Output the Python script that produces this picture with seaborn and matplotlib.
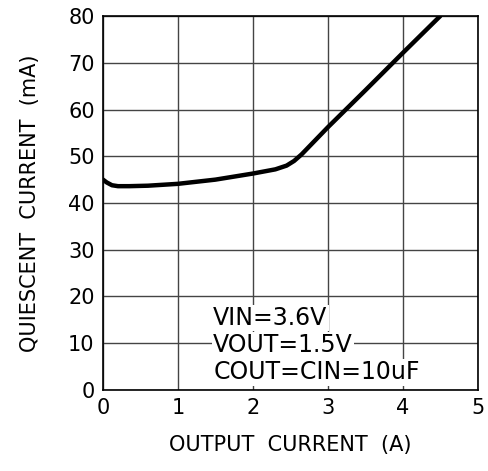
import matplotlib
matplotlib.use("Agg")
import matplotlib.pyplot as plt
import pandas as pd
import seaborn as sns

# readings
output_current = [0.0, 0.05, 0.12, 0.2, 0.35, 0.6, 1.0, 1.5, 2.0, 2.3, 2.45, 2.55, 2.65, 3.0, 3.5, 4.0, 4.5]
quiescent_ma = [45.0, 44.4, 43.8, 43.6, 43.6, 43.7, 44.1, 45.0, 46.3, 47.2, 48.0, 49.0, 50.4, 56.2, 64.1, 72.1, 80.0]

x_ticks = [0, 1, 2, 3, 4, 5]
y_ticks = [0, 10, 20, 30, 40, 50, 60, 70, 80]
notes = ["VIN=3.6V", "VOUT=1.5V", "COUT=CIN=10uF"]

sns.set_style("white")
plt.rcParams["font.family"] = ["DejaVu Sans"]
plt.rcParams["text.color"] = "black"
plt.rcParams["axes.labelcolor"] = "black"
plt.rcParams["xtick.color"] = "black"
plt.rcParams["ytick.color"] = "black"

df = pd.DataFrame({"current": output_current, "iq": quiescent_ma})

fig = plt.figure(figsize=(4.88, 4.71), dpi=100)
ax = fig.add_axes([0.211, 0.172, 0.768, 0.794])

ax.grid(True, color="#444444", linewidth=1.0)
ax.set_axisbelow(True)
sns.lineplot(data=df, x="current", y="iq", color="black", linewidth=3.2, ax=ax)

ax.set_xlim(0, 5)
ax.set_ylim(0, 80)
ax.set_xticks(x_ticks)
ax.set_yticks(y_ticks)
ax.tick_params(labelsize=15, length=0, pad=6)
for s in ax.spines.values():
    s.set_color("black")
    s.set_linewidth(1.2)

ax.set_xlabel("OUTPUT  CURRENT  (A)", fontsize=15, labelpad=12)
ax.set_ylabel("QUIESCENT  CURRENT  (mA)", fontsize=15, labelpad=20)

for i, line in enumerate(notes):
    ax.text(1.47, 15.4 - i * 5.8, line, fontsize=17, ha="left", va="center",
            bbox=dict(facecolor="white", edgecolor="none", pad=1.0))

fig.savefig("out.png", dpi=100)
